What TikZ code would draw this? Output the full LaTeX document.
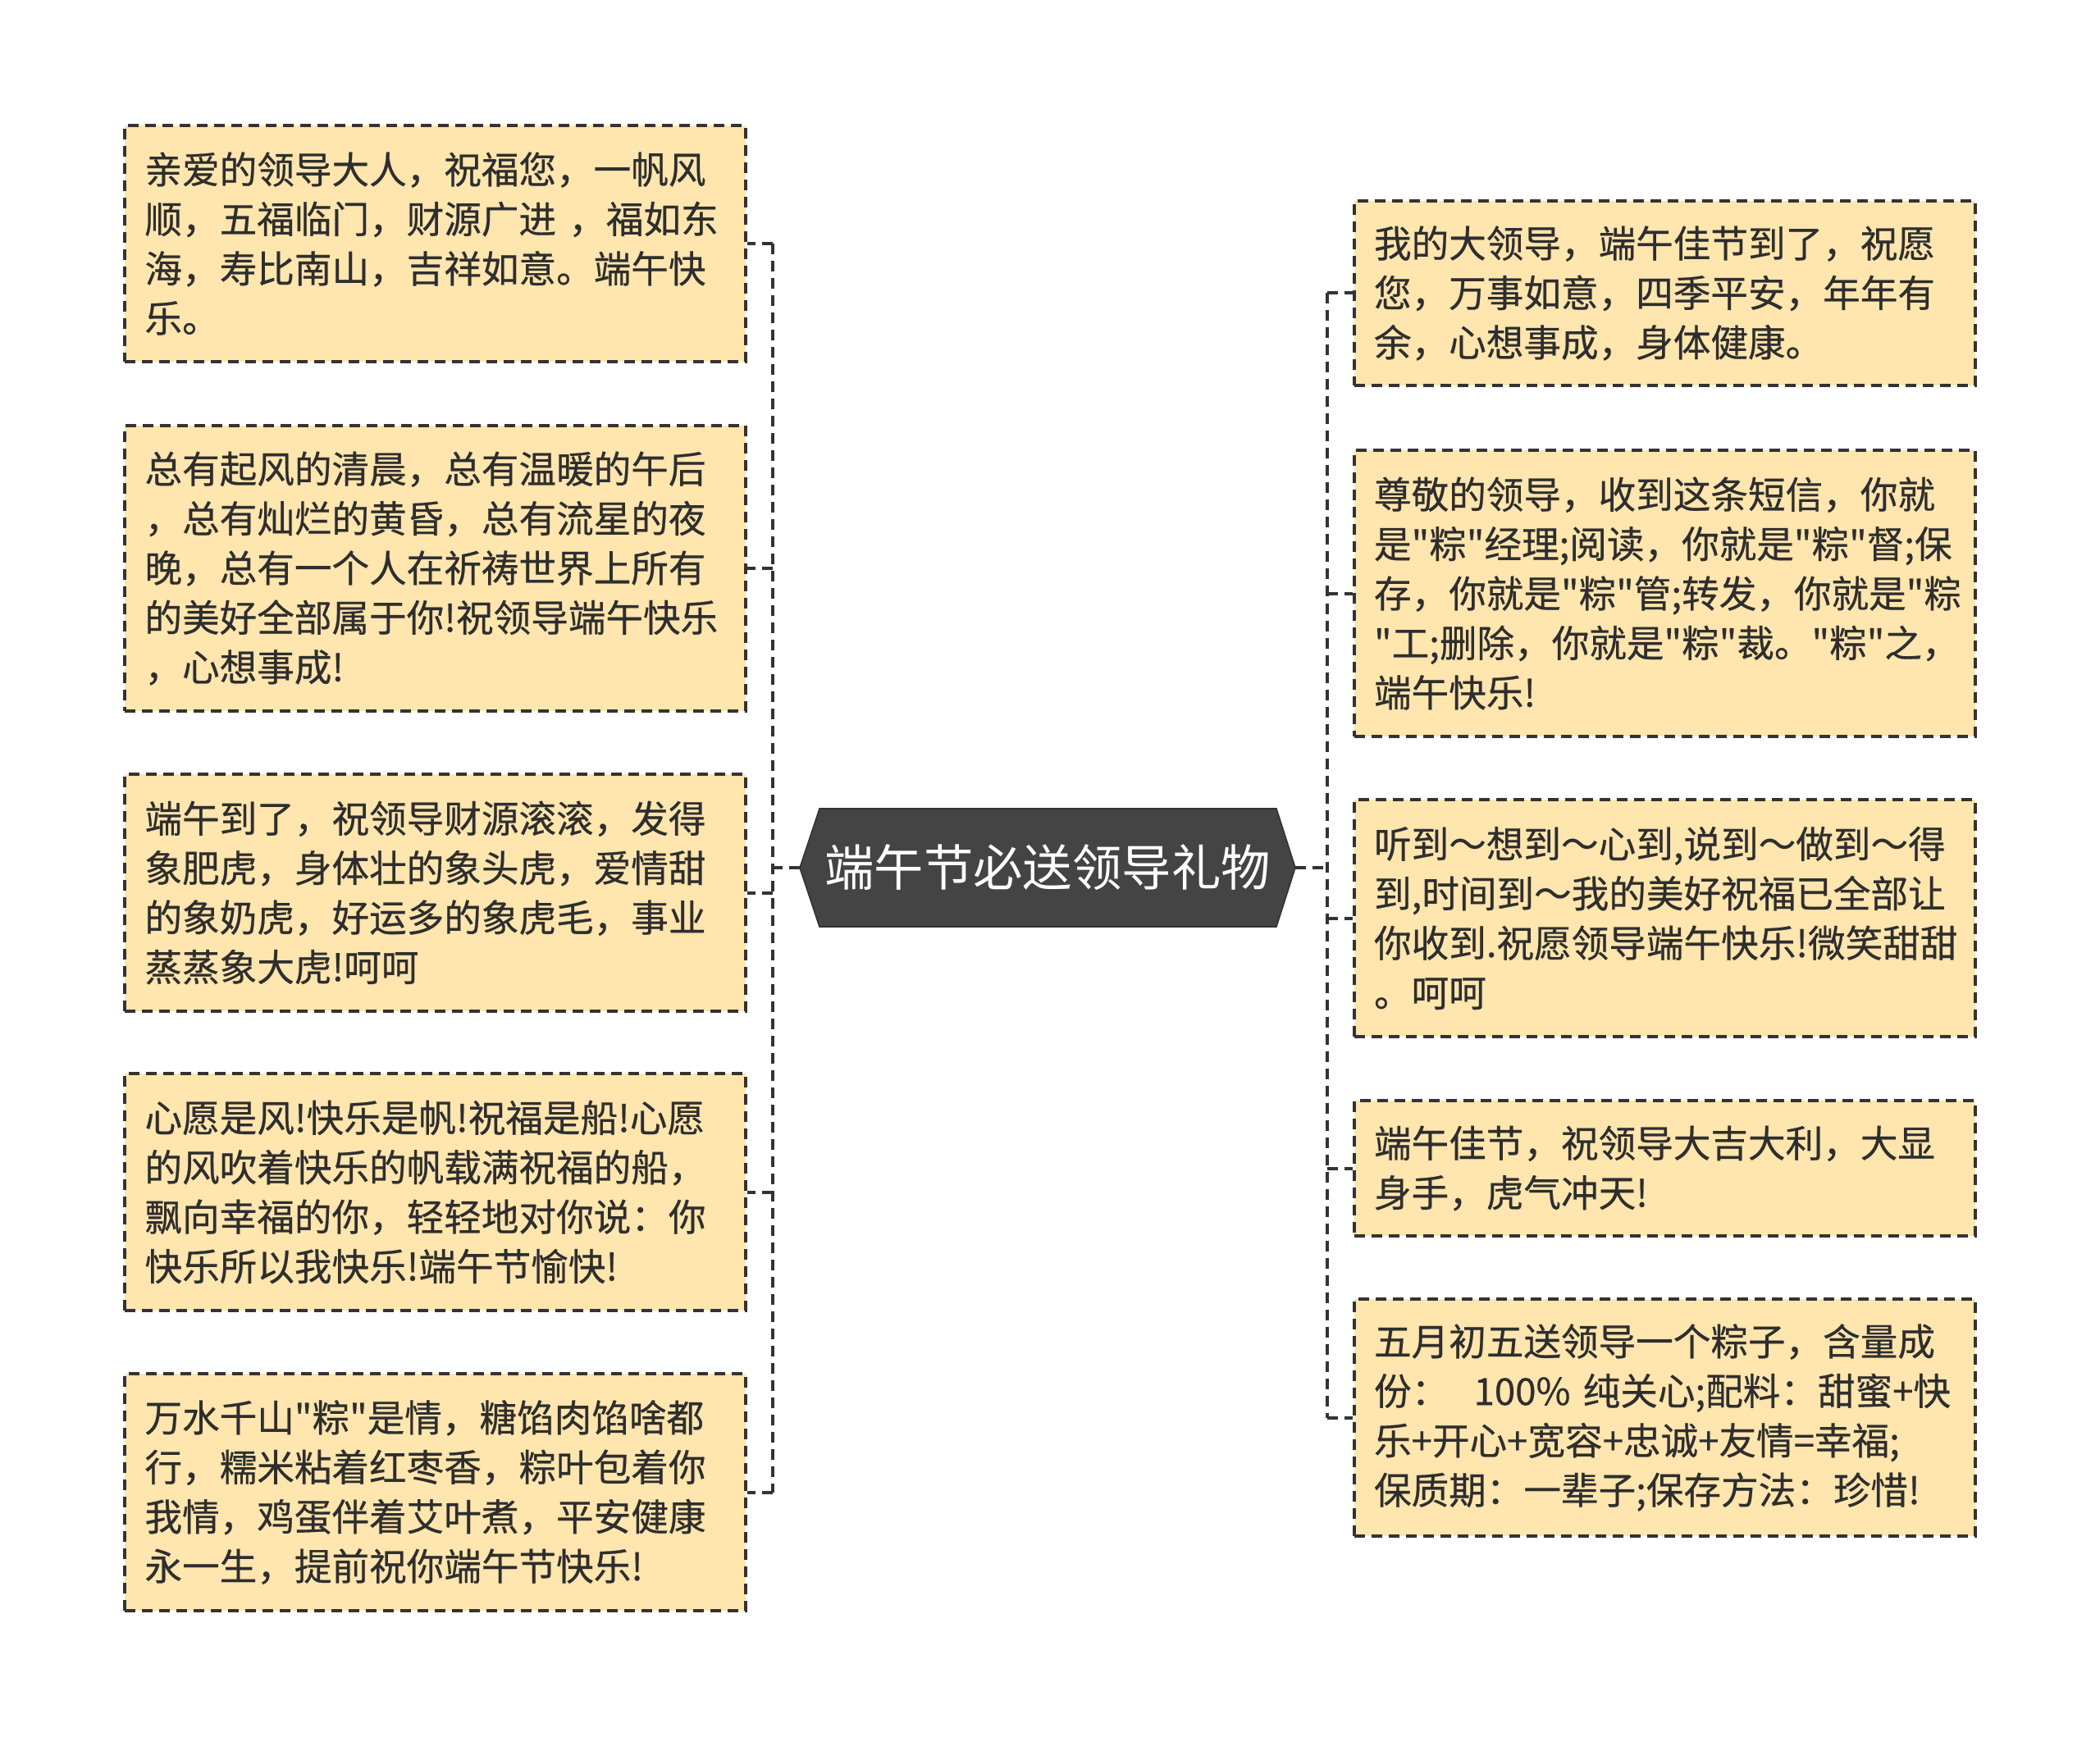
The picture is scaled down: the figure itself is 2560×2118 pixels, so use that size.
\documentclass[tikz,border=0pt]{standalone}
\usepackage{fontspec}
\newfontfamily\cjk[FakeBold=0.5]{Noto Sans CJK SC}
\newfontfamily\cjkroot{Noto Sans CJK SC}
\definecolor{boxfill}{HTML}{FFE5AE}
\definecolor{linec}{HTML}{333333}
\definecolor{textc}{HTML}{2E2E2E}
\definecolor{rootfill}{HTML}{444444}
\tikzset{
  leaf/.style={draw=linec, line width=2pt, dash pattern=on 6.5pt off 4pt,
    fill=boxfill, text=textc, font=\cjk\fontsize{22.8pt}{30.2pt}\selectfont,
    align=left, text width=354pt, inner xsep=12.25pt, inner ysep=0pt,
    minimum width=378.5pt, anchor=center},
  link/.style={draw=linec, line width=2pt, dash pattern=on 6.5pt off 4pt},
  rootnode/.style={text=white, font=\cjkroot\fontsize{30.2pt}{36pt}\selectfont,
    minimum width=278.5pt, minimum height=72pt, inner sep=0pt}
}
\begin{document}
\begin{tikzpicture}[x=0.5pt,y=-0.5pt]
\useasboundingbox (0,0) rectangle (2560,2118);

% root
\fill[rootfill, draw=linec, line width=0.8pt] (975,1058) -- (999,986) -- (1556,986) -- (1579,1058) -- (1556,1130) -- (999,1130) -- cycle;
\node[rootnode] (root) at (1277,1058) {端午节必送领导礼物};
\coordinate (rootL) at (975,1058);
\coordinate (rootR) at (1579,1058);
\coordinate (jl) at (942,1058);
\coordinate (jr) at (1618,1058);

% left leaves
\node[leaf, minimum height=144pt] (l1) at (530.5,297) {亲爱的领导大人，祝福您，一帆风\\顺，五福临门，财源广进 ，福如东\\海，寿比南山，吉祥如意。端午快\\乐。};
\node[leaf, minimum height=174pt] (l2) at (530.5,693) {总有起风的清晨，总有温暖的午后\\，总有灿烂的黄昏，总有流星的夜\\晚，总有一个人在祈祷世界上所有\\的美好全部属于你!祝领导端午快乐\\，心想事成!};
\node[leaf, minimum height=144.5pt] (l3) at (530.5,1088.5) {端午到了，祝领导财源滚滚，发得\\象肥虎，身体壮的象头虎，爱情甜\\的象奶虎，好运多的象虎毛，事业\\蒸蒸象大虎!呵呵};
\node[leaf, minimum height=144.5pt] (l4) at (530.5,1453.5) {心愿是风!快乐是帆!祝福是船!心愿\\的风吹着快乐的帆载满祝福的船，\\飘向幸福的你，轻轻地对你说：你\\快乐所以我快乐!端午节愉快!};
\node[leaf, minimum height=144.5pt] (l5) at (530.5,1819.5) {万水千山"粽"是情，糖馅肉馅啥都\\行，糯米粘着红枣香，粽叶包着你\\我情，鸡蛋伴着艾叶煮，平安健康\\永一生，提前祝你端午节快乐!};

% right leaves
\node[leaf, minimum height=112.5pt] (r1) at (2029,357.5) {我的大领导，端午佳节到了，祝愿\\您，万事如意，四季平安，年年有\\余，心想事成，身体健康。};
\node[leaf, minimum height=174.5pt] (r2) at (2029,723.5) {尊敬的领导，收到这条短信，你就\\是"粽"经理;阅读，你就是"粽"督;保\\存，你就是"粽"管;转发，你就是"粽\\"工;删除，你就是"粽"裁。"粽"之，\\端午快乐!};
\node[leaf, minimum height=144.5pt] (r3) at (2029,1119.5) {听到～想到～心到,说到～做到～得\\到,时间到～我的美好祝福已全部让\\你收到.祝愿领导端午快乐!微笑甜甜\\。呵呵};
\node[leaf, minimum height=82.5pt] (r4) at (2029,1424.5) {端午佳节，祝领导大吉大利，大显\\身手，虎气冲天!};
\node[leaf, minimum height=144.5pt] (r5) at (2029,1728.5) {五月初五送领导一个粽子，含量成\\份：\ \ 100\% 纯关心;配料：甜蜜+快\\乐+开心+宽容+忠诚+友情=幸福;\\保质期：一辈子;保存方法：珍惜!};

% connectors left
\draw[link] (rootL) -- (jl);
\draw[link] (jl|-l1.east) -- (jl|-l5.east);
\foreach \n in {l1,l2,l3,l4,l5} {
  \draw[link] (jl|-\n.east) -- (\n.east);
}
% connectors right
\draw[link] (rootR) -- (jr);
\draw[link] (jr|-r1.west) -- (jr|-r5.west);
\foreach \n in {r1,r2,r3,r4,r5} {
  \draw[link] (jr|-\n.west) -- (\n.west);
}
\end{tikzpicture}
\end{document}
